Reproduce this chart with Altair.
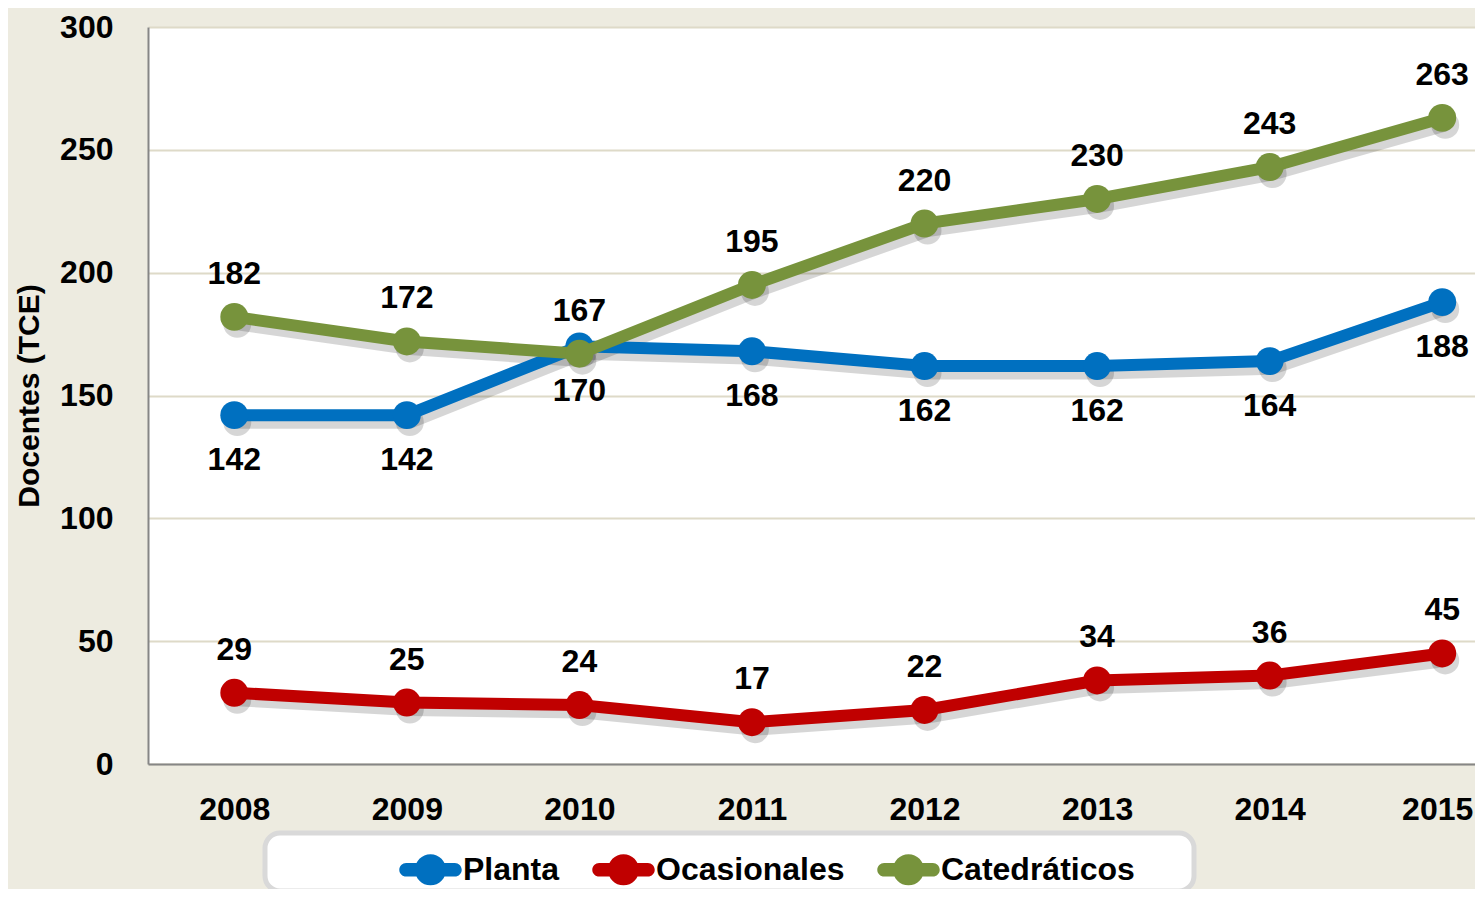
import altair as alt
import pandas as pd

years = [2008, 2009, 2010, 2011, 2012, 2013, 2014, 2015]
series_names = ["Planta", "Ocasionales", "Catedráticos"]
planta = [142, 142, 170, 168, 162, 162, 164, 188]
ocasionales = [29, 25, 24, 17, 22, 34, 36, 45]
catedraticos = [182, 172, 167, 195, 220, 230, 243, 263]
colors = ["#0070C0", "#C00000", "#77933C"]
y_ticks = [0, 50, 100, 150, 200, 250, 300]

rows = []
for name, vals in zip(series_names, [planta, ocasionales, catedraticos]):
    for yr, v in zip(years, vals):
        rows.append({"Año": yr, "Serie": name, "Valor": v})
df = pd.DataFrame(rows)

FONT = "Liberation Sans"

x_enc = alt.X("Año:Q",
              scale=alt.Scale(domain=[2007.5, 2015.19], nice=False, zero=False),
              axis=alt.Axis(values=years, format="d", title=None, grid=False,
                            ticks=False, labelFontSize=32, labelFont=FONT,
                            labelFontWeight="bold", labelColor="black",
                            labelPadding=30, labelFlush=False,
                            labelOffset={"condition": {"test": "datum.value == 2015", "value": -5}, "value": 0},
                            domainColor="#868686", domainWidth=2))
y_enc = alt.Y("Valor:Q",
              scale=alt.Scale(domain=[0, 300], nice=False),
              axis=alt.Axis(values=y_ticks, title="Docentes (TCE)", ticks=False,
                            labelFontSize=32, labelFont=FONT, labelFontWeight="bold",
                            labelColor="black", labelPadding=35,
                            titleFontSize=30, titleFont=FONT, titleFontWeight="bold",
                            titleColor="black", titlePadding=15,
                            gridColor="#DEDAC8", gridWidth=2,
                            domainColor="#868686", domainWidth=2))

base = alt.Chart(df).encode(x=x_enc, y=y_enc)

legend_symbol = ("M-0.78,-0.22H0.78A0.22,0.22 0 0,1 0.78,0.22"
                 "H-0.78A0.22,0.22 0 0,1 -0.78,-0.22Z "
                 "M-0.5,0A0.5,0.5 0 1,1 0.5,0A0.5,0.5 0 1,1 -0.5,0Z")

fill_scale = alt.Scale(domain=series_names, range=colors)

layers = []
# shadows
layers.append(base.mark_line(strokeWidth=13, color="black", opacity=0.16,
                             xOffset=3, yOffset=7).encode(detail="Serie:N"))
layers.append(base.mark_circle(size=780, color="black", opacity=0.16,
                               xOffset=3, yOffset=7))

for i, (name, col) in enumerate(zip(series_names, colors)):
    sub = base.transform_filter(alt.datum.Serie == name)
    layers.append(sub.mark_line(strokeWidth=12, color=col))
    layers.append(sub.mark_circle(size=780, opacity=1).encode(
        fill=alt.Fill("Serie:N", scale=fill_scale, sort=series_names,
                      legend=alt.Legend(
                          title=" ", titleOrient="left", titleFontSize=2,
                          titlePadding=129,
                          orient="none", legendX=117, legendY=806,
                          direction="horizontal",
                          symbolType=legend_symbol, symbolSize=3900,
                          symbolStrokeWidth=0, symbolOpacity=1,
                          labelFontSize=32, labelFont=FONT,
                          labelFontWeight="bold", labelColor="black",
                          labelOffset=1, columnPadding=32,
                          labelExpr="datum.label == 'Catedráticos' ? datum.label + '\u00a0\u00a0\u00a0\u00a0\u00a0\u00a0\u200b' : datum.label",
                          padding=5, fillColor="white",
                          strokeColor="#D9D9D9", labelLimit=500))))

below = base.transform_filter(alt.datum.Serie == "Planta").mark_text(
    dy=45, fontSize=32, font=FONT, fontWeight="bold", color="black",
    baseline="middle").encode(text="Valor:Q")
above = base.transform_filter(alt.datum.Serie != "Planta").mark_text(
    dy=-43, fontSize=32, font=FONT, fontWeight="bold", color="black",
    baseline="middle").encode(text="Valor:Q")
layers += [below, above]

chart = alt.layer(*layers).properties(
    width=1327, height=737,
    background="#EDEBE0",
    padding={"left": 140, "top": 19, "right": 0, "bottom": 125},
    autosize=alt.AutoSizeParams(type="none"),
).configure_view(fill="white", stroke=None).configure_legend(
    strokeWidth=5, cornerRadius=15)

chart.save("out.html", embed_options={"renderer": "svg", "actions": False})
